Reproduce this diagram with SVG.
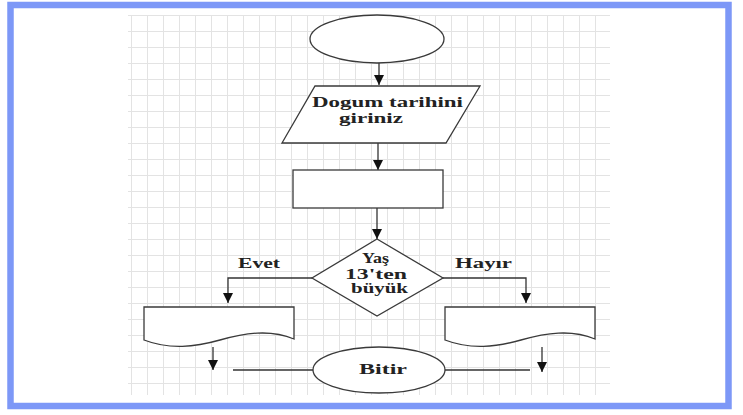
<svg xmlns="http://www.w3.org/2000/svg" width="743" height="415" viewBox="0 0 743 415">
<style>
.shape{fill:#fff;stroke:#3a3a3a;stroke-width:1.3}
.conn{fill:none;stroke:#333;stroke-width:1.3}
.t{font-family:"Liberation Serif","Times New Roman",serif;font-weight:bold;font-size:14px;fill:#222}
</style>
<defs>
<pattern id="grid" patternUnits="userSpaceOnUse" x="131" y="15" width="16" height="16">
<path d="M0.5 0V16M0 0.5H16" fill="none" stroke="#e3e3e3" stroke-width="1"/>
</pattern>
<marker id="arr" markerWidth="11" markerHeight="11" refX="10" refY="5.5" orient="auto" markerUnits="userSpaceOnUse">
<path d="M0,0.5 L10,5.5 L0,10.5 Z" fill="#111"/>
</marker>
</defs>
<rect width="743" height="415" fill="#fff"/>
<rect x="128" y="15" width="482" height="380" fill="url(#grid)"/>
<rect x="10.5" y="5" width="718" height="401" fill="none" stroke="#7d98f7" stroke-width="6.5"/>

<g id="connectors">
<line class="conn" x1="379" y1="63" x2="379" y2="85" marker-end="url(#arr)"/>
<line class="conn" x1="378" y1="143" x2="378" y2="170" marker-end="url(#arr)"/>
<line class="conn" x1="377" y1="208" x2="377" y2="239" marker-end="url(#arr)"/>
<polyline class="conn" points="312,278 228,278 228,303" marker-end="url(#arr)"/>
<polyline class="conn" points="443,278 526,278 526,303" marker-end="url(#arr)"/>
<line class="conn" x1="213" y1="347" x2="213" y2="370" marker-end="url(#arr)"/>
<line class="conn" x1="542" y1="347" x2="542" y2="372" marker-end="url(#arr)"/>
<line class="conn" x1="233" y1="370" x2="313" y2="370"/>
<line class="conn" x1="445" y1="370" x2="530" y2="370"/>
</g>

<g id="start">
<ellipse class="shape" cx="377" cy="39" rx="67" ry="24"/>
</g>
<g id="input">
<polygon class="shape" points="315,86 480,86 446,143 282,143"/>
<text class="t" x="312" y="107" textLength="151" lengthAdjust="spacingAndGlyphs">Dogum tarihini</text>
<text class="t" x="339" y="123" textLength="64" lengthAdjust="spacingAndGlyphs">giriniz</text>
</g>
<g id="process">
<rect class="shape" x="293" y="170" width="150" height="38"/>
</g>
<g id="decision">
<polygon class="shape" points="377,239 443,278 377,316 312,278"/>
<text class="t" x="362" y="263" textLength="27" lengthAdjust="spacingAndGlyphs">Yaş</text>
<text class="t" x="345" y="279" textLength="62" lengthAdjust="spacingAndGlyphs">13'ten</text>
<text class="t" x="351" y="293" textLength="57" lengthAdjust="spacingAndGlyphs">büyük</text>
</g>
<g id="label-evet">
<text class="t" x="238" y="268" textLength="42" lengthAdjust="spacingAndGlyphs">Evet</text>
</g>
<g id="label-hayir">
<text class="t" x="455" y="268" textLength="57" lengthAdjust="spacingAndGlyphs">Hayır</text>
</g>
<g id="doc-left">
<path class="shape" d="M144,307 H294 V339 C270,329 245,333 220,340 C195,347 170,350 144,340 Z"/>
</g>
<g id="doc-right">
<path class="shape" d="M445,307 H595 V339 C571,329 546,333 521,340 C496,347 471,350 445,340 Z"/>
</g>
<g id="end">
<ellipse class="shape" cx="379" cy="370" rx="66" ry="23"/>
<text class="t" x="359" y="374" textLength="48" lengthAdjust="spacingAndGlyphs">Bitir</text>
</g>
</svg>
